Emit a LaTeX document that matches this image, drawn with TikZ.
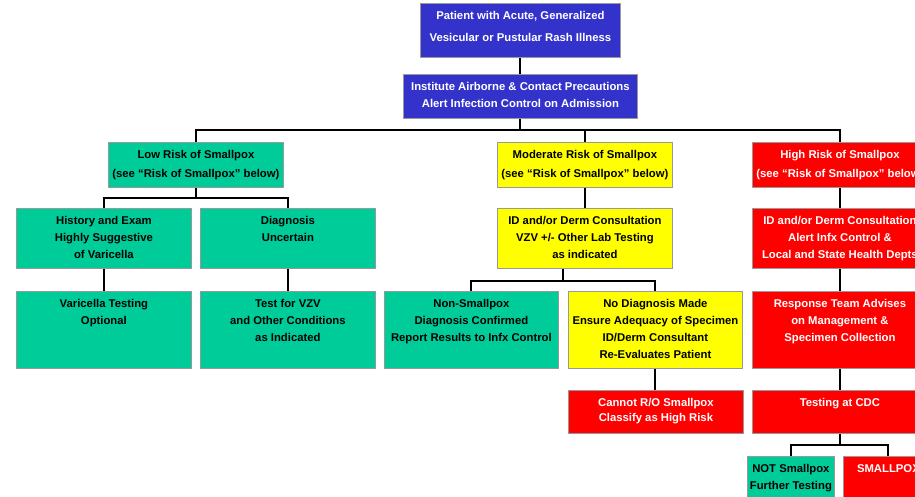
\documentclass[tikz,border=0pt]{standalone}
\usepackage{fontspec}
\setmainfont{Liberation Sans}
\usetikzlibrary{positioning,calc}
\definecolor{pblue}{RGB}{51,51,204}
\definecolor{pgreen}{RGB}{0,204,153}
\definecolor{pyellow}{RGB}{255,255,0}
\definecolor{pred}{RGB}{255,0,0}
% text block with fixed size, lines from the top
\newcommand{\cell}[4][17pt]{\parbox[c][#3][t]{#2}{\centering\fontsize{11.3}{#1}\selectfont\bfseries\rule{0pt}{16pt}#4}}

\begin{document}
\begin{tikzpicture}[x=1pt, y=-1pt,
    box/.style={draw=gray!80, line width=0.8pt, inner sep=0pt, anchor=north west},
    topbox/.style={box, fill=pblue, text=white},
    lowbox/.style={box, fill=pgreen, text=black},
    modbox/.style={box, fill=pyellow, text=black},
    highbox/.style={box, fill=pred, text=white},
    link/.style={line width=2pt, black}]
    \useasboundingbox (0,0) rectangle (915,497);
    \clip (0,0) rectangle (915,497);

    % Entry
    \node[topbox] (pat) at (420,3) {\cell[22pt]{200pt}{54pt}{Patient with Acute, Generalized\\Vesicular or Pustular Rash Illness}\hspace{30pt}};
    \node[topbox] (prec) at (403,74) {\cell{234pt}{44pt}{Institute Airborne \& Contact Precautions\\Alert Infection Control on Admission}\hspace{29pt}};

    % Risk levels
    \node[lowbox] (low) at (108,142) {\cell[19pt]{175pt}{45pt}{Low Risk of Smallpox\\(see “Risk of Smallpox” below)}};
    \node[modbox] (mod) at (497,142) {\cell[19pt]{175pt}{45pt}{Moderate Risk of Smallpox\\(see “Risk of Smallpox” below)}};
    \node[highbox] (high) at (752,142) {\cell[19pt]{175pt}{45pt}{High Risk of Smallpox\\(see “Risk of Smallpox” below)}};

    % Low risk
    \node[lowbox] (hist) at (16,208) {\cell{175pt}{60pt}{History and Exam\\Highly Suggestive\\of Varicella}};
    \node[lowbox] (diag) at (200,208) {\cell{175pt}{60pt}{Diagnosis\\Uncertain}};
    \node[lowbox] (vari) at (16,291) {\cell{175pt}{77pt}{Varicella Testing\\Optional}};
    \node[lowbox] (vzv) at (200,291) {\cell{175pt}{77pt}{Test for VZV\\and Other Conditions\\as Indicated}};

    % Moderate risk
    \node[modbox] (idmod) at (497,208) {\cell{175pt}{60pt}{ID and/or Derm Consultation\\VZV +/- Other Lab Testing\\as indicated}};
    \node[lowbox] (nons) at (384,291) {\cell{174pt}{77pt}{Non-Smallpox\\Diagnosis Confirmed\\Report Results to Infx Control}};
    \node[modbox] (nodx) at (568,291) {\cell{174pt}{77pt}{No Diagnosis Made\\Ensure Adequacy of Specimen\\ID/Derm Consultant\\Re-Evaluates Patient}};
    \node[highbox] (cannot) at (568,390) {\cell[15pt]{175pt}{43pt}{Cannot R/O Smallpox\\Classify as High Risk}};

    % High risk
    \node[highbox] (idhigh) at (752,208) {\cell{175pt}{60pt}{ID and/or Derm Consultation\\Alert Infx Control \&\\Local and State Health Depts}};
    \node[highbox] (resp) at (752,291) {\cell{175pt}{77pt}{Response Team Advises\\on Management \&\\Specimen Collection}};
    \node[highbox] (cdc) at (752,390) {\cell{175pt}{43pt}{Testing at CDC}};
    \node[lowbox] (nots) at (747,456) {\cell{87pt}{50pt}{NOT Smallpox\\Further Testing}};
    \node[highbox] (spox) at (843,456) {\cell{90pt}{50pt}{SMALLPOX}};

    % Connectors
    \coordinate (bar) at (0,130);
    \draw[link] (pat.south) -- (pat.south |- prec.north);
    \draw[link] (prec.south) -- (prec.south |- bar);
    \draw[link] (low.north) -- (low.north |- bar) -- (high.north |- bar) -- (high.north);
    \draw[link] (mod.north) -- (mod.north |- bar);

    \draw[link] (hist.north) -- ++(0,-10) coordinate (lowfork) -| (diag.north);
    \draw[link] (low.south) -- (low.south |- lowfork);
    \draw[link] (hist.south) -- (vari.north);
    \draw[link] (diag.south) -- (vzv.north);

    \draw[link] (mod.south) -- (idmod.north);
    \draw[link] (nons.north) -- ++(0,-10) coordinate (modfork) -| (nodx.north);
    \coordinate (modmid) at ($(nons.north)!0.5!(nodx.north)$);
    \draw[link] (idmod.south -| modmid) -- (modmid |- modfork);
    \draw[link] (nodx.south) -- (nodx.south |- cannot.north);

    \draw[link] (high.south) -- (idhigh.north);
    \draw[link] (idhigh.south) -- (resp.north);
    \draw[link] (resp.south) -- (cdc.north);
    \draw[link] (nots.north) -- ++(0,-11) coordinate (highfork) -| (spox.north);
    \coordinate (highmid) at ($(nots.north)!0.5!(spox.north)$);
    \draw[link] (cdc.south -| highmid) -- (highmid |- highfork);
\end{tikzpicture}
\end{document}
